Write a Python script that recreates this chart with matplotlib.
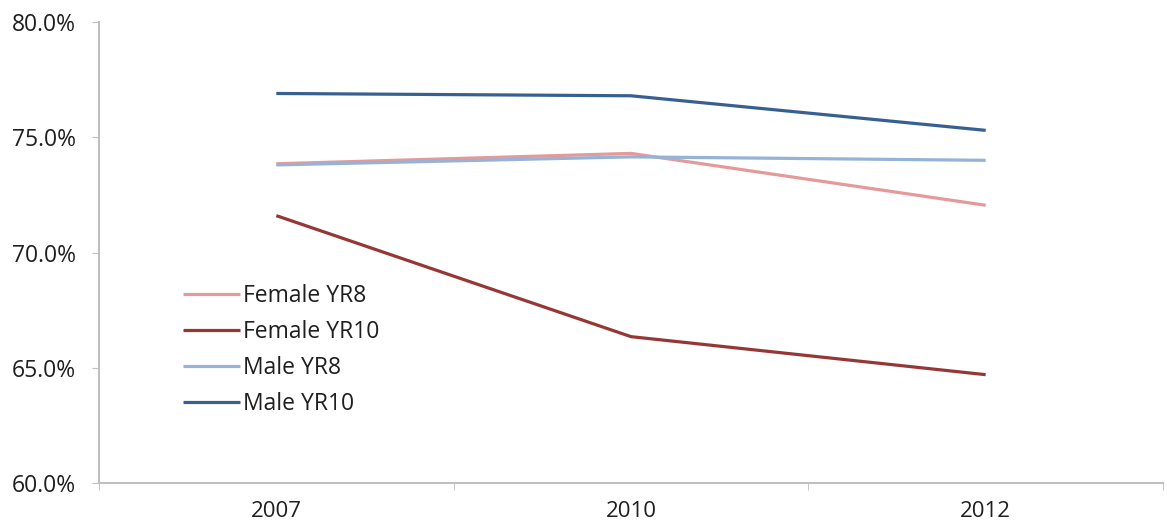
import matplotlib
matplotlib.use("Agg")
import matplotlib.pyplot as plt
from matplotlib.ticker import FuncFormatter

# survey years and share per group
years = ["2007", "2010", "2012"]
female_yr8 = [73.85, 74.3, 72.05]
female_yr10 = [71.6, 66.35, 64.7]
male_yr8 = [73.8, 74.15, 74.0]
male_yr10 = [76.9, 76.8, 75.3]

series = [
    ("Female YR8", female_yr8, "#e6999a"),
    ("Female YR10", female_yr10, "#953735"),
    ("Male YR8", male_yr8, "#95b3d7"),
    ("Male YR10", male_yr10, "#376092"),
]

plt.rcParams["font.family"] = ["Open Sans", "DejaVu Sans"]
txt = "#1f1f1f"

fig = plt.figure(figsize=(11.67, 5.28), dpi=100)
ax = fig.add_axes([0.0848, 0.0852, 0.9118, 0.8731])

x = list(range(len(years)))
for nombre, vals, col in series:
    ax.plot(x, vals, color=col, lw=2.3, label=nombre, solid_capstyle="butt")

ax.set_xlim(-0.5, len(years) - 0.5)
ax.set_ylim(60, 80)
ax.set_yticks([60, 65, 70, 75, 80])
ax.yaxis.set_major_formatter(FuncFormatter(lambda v, p: "%.1f%%" % v))

# category labels centred, ticks between categories
ax.set_xticks(x)
ax.set_xticklabels(years)
ax.set_xticks([-0.5, 0.5, 1.5, 2.5], minor=True)
ax.tick_params(axis="x", which="major", length=0, pad=13, labelsize=16, labelcolor=txt)
ax.tick_params(axis="x", which="minor", length=5, color="#bfbfbf", direction="out")
ax.tick_params(axis="y", length=5, color="#bfbfbf", labelsize=16.5, pad=11.5, labelcolor=txt)

for s in ["top", "right"]:
    ax.spines[s].set_visible(False)
for s in ["left", "bottom"]:
    ax.spines[s].set_color("#bfbfbf")
    ax.spines[s].set_linewidth(1.5)

leg = fig.legend(loc="upper left", bbox_to_anchor=(0.1568, 0.462), frameon=False,
                 fontsize=16.5, handlelength=2.5, handletextpad=0.1,
                 labelspacing=0.52, borderpad=0, borderaxespad=0)
for t in leg.get_texts():
    t.set_color(txt)

fig.savefig("out.png", dpi=100)
